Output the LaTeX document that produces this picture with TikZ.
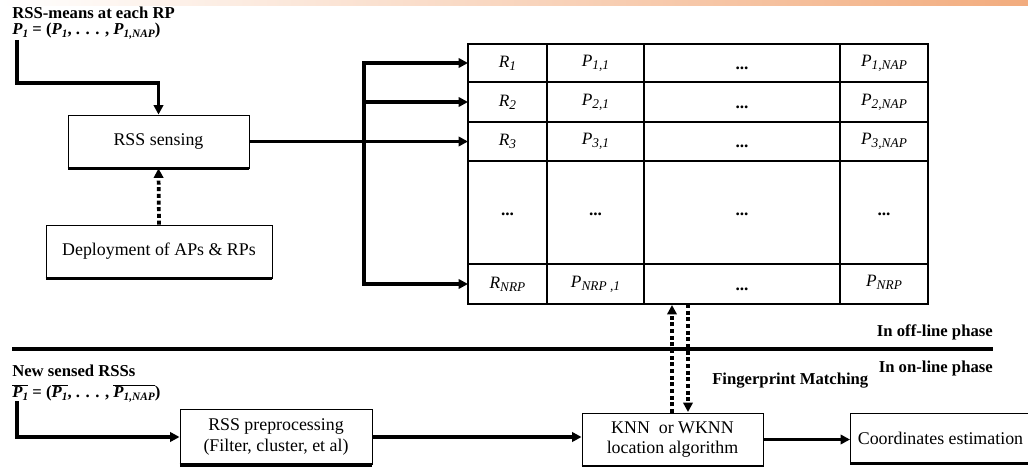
\documentclass[tikz,border=0pt]{standalone}
\usepackage{fontspec}
\setmainfont{Liberation Serif}
\usetikzlibrary{arrows.meta}
\definecolor{bandorange}{HTML}{F2AC7E}
\tikzset{
  box/.style={draw=black, line width=0.7pt, inner sep=0pt, align=center,
    font=\fontsize{13.4}{15.5}\selectfont},
  arr/.style={line width=2.8pt, -{Triangle[length=7pt,width=7pt]}},
  darr/.style={line width=2.8pt, dash pattern=on 3pt off 2pt, -{Triangle[length=7pt,width=7pt]}},
  lbl/.style={font=\bfseries\fontsize{12.5}{14}\selectfont, inner sep=0pt},
  cell/.style={font=\itshape\fontsize{13}{15}\selectfont, inner sep=0pt},
  dots/.style={font=\bfseries\fontsize{13}{15}\selectfont, inner sep=0pt},
  tline/.style={line width=0.8pt}
}
\newcommand\ts[1]{\raisebox{-0.35ex}{\fontsize{10}{11}\selectfont\itshape #1}}
\newcommand\bs[1]{\raisebox{-0.3ex}{\fontsize{8.5}{9}\selectfont\bfseries\itshape #1}}
\newcommand\ovl[1]{$\overline{\mbox{#1}}$}
\begin{document}
\begin{tikzpicture}[x=0.75pt, y=-0.75pt]
\useasboundingbox (0,0) rectangle (1028,467);
\shade[left color=white, right color=bandorange] (0,0) rectangle (1028,6);

% top-left labels
\node[lbl, anchor=west] (t1lbl) at (12,13) {RSS-means at each RP};
\node[lbl, anchor=west] (t1f) at (12,31) {\textit{P}\bs{1} = (\textit{P}\bs{1}, . . . , \textit{P}\bs{1,NAP})};
\coordinate (c1) at (17,40);

% boxes
\node[box, minimum width=135.75pt, minimum height=39.75pt] (sense) at (158.5,141.5) {RSS sensing};
\node[box, minimum width=169.5pt, minimum height=39.75pt] (deploy) at (159,251.5) {Deployment of APs \& RPs};
\node[box, minimum width=144pt, minimum height=41pt] (pre) at (276,437) {RSS preprocessing\\(Filter, cluster, et al)};
\node[box, minimum width=135.75pt, minimum height=39.75pt] (knn) at (672.5,439.5) {KNN\ \ or WKNN\\location algorithm};
\node[box, minimum width=135pt, minimum height=37.5pt, anchor=west] (coord) at (850,438) {Coordinates estimation};
\foreach \b in {sense,deploy,pre,knn,coord}
  \draw[line width=2.6pt] (\b.south west) -- (\b.south east);

% table
\draw[tline] (468,44) rectangle (928,304);
\draw[line width=1.8pt] (928,44) -- (928,304);
\foreach \yy in {82,122,161,264} \draw[tline] (468,\yy) -- (928,\yy);
\foreach \xx in {547,644,840} \draw[tline] (\xx,44) -- (\xx,304);

\node[cell] (r1) at (507.5,63) {R\ts{1}};
\node[cell] (r2) at (507.5,102) {R\ts{2}};
\node[cell] (r3) at (507.5,141.5) {R\ts{3}};
\node[dots] (r4) at (507.5,214) {...};
\node[cell] (rn) at (507.5,284) {R\ts{NRP}};
\node[cell] (p1) at (595.5,63) {P\ts{1,1}};
\node[cell] (p2) at (595.5,102) {P\ts{2,1}};
\node[cell] (p3) at (595.5,141.5) {P\ts{3,1}};
\node[dots] (p4) at (595.5,214) {...};
\node[cell] (pn) at (595.5,284) {P\ts{NRP ,1}};
\node[dots] (d1) at (742,68) {...};
\node[dots] (d2) at (742,107) {...};
\node[dots] (d3) at (742,146) {...};
\node[dots] (d4) at (742,214) {...};
\node[dots] (dn) at (742,289) {...};
\node[cell] (q1) at (884,63) {P\ts{1,NAP}};
\node[cell] (q2) at (884,102) {P\ts{2,NAP}};
\node[cell] (q3) at (884,141.5) {P\ts{3,NAP}};
\node[dots] (q4) at (884,214) {...};
\node[cell] (qn) at (884,282) {P\ts{NRP}};

\coordinate (e1) at (468,63);
\coordinate (e2) at (468,102);
\coordinate (e3) at (468,141.5);
\coordinate (en) at (468,284);
\coordinate (j) at (364,141.5);
\coordinate (tb1) at (672,305);
\coordinate (tb2) at (688,304);
\coordinate (knn1) at (672,413);
\coordinate (knn2) at (688,412);

% connectors
\draw[arr] (c1) -- ++(0,43) -| (sense.north);
\draw[darr] (deploy.north) -- (sense.south);
\draw[arr] (sense.east) -- (e3);
\draw[arr] (j) |- (e1);
\draw[arr] (j) |- (e2);
\draw[arr] (j) |- (en);
\draw[darr] (knn1) -- (tb1);
\draw[darr] (tb2) -- (knn2);

% separator
\coordinate (s1) at (12,349);
\coordinate (s2) at (993,349);
\draw[line width=2.8pt] (s1) -- (s2);
\node[lbl, anchor=east] (off) at (993,332) {In off-line phase};
\node[lbl, anchor=east] (on) at (993,368) {In on-line phase};
\node[lbl, anchor=west] (fm) at (712,381) {Fingerprint Matching};

% bottom labels
\node[lbl, anchor=west] (t2lbl) at (12,371) {New sensed RSSs};
\node[lbl, anchor=west] (t2f) at (12,393) {\ovl{\textit{P}\bs{1}} = (\ovl{\textit{P}\bs{1}}, . . . , \ovl{\textit{P}\bs{1,NAP}})};
\coordinate (c2) at (17,401);
\draw[arr] (c2) |- (pre.west);
\draw[arr] (pre.east) -- (pre.east -| knn.west);
\draw[arr] (knn.east) -- (knn.east -| coord.west);
\end{tikzpicture}
\end{document}
